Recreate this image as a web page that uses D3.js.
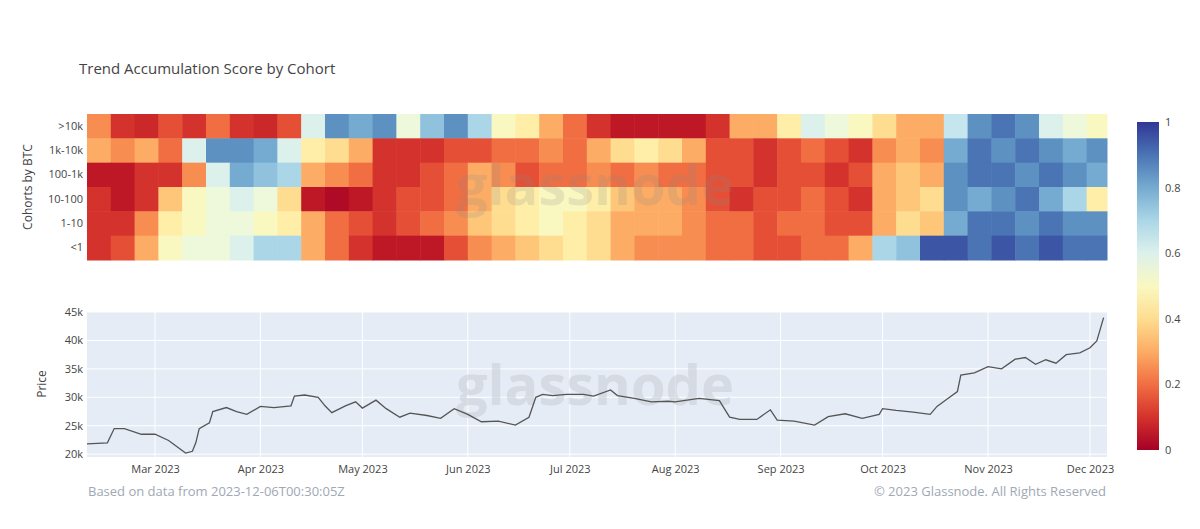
<!DOCTYPE html><html><head><meta charset="utf-8"><script src="https://cdn.jsdelivr.net/npm/d3@7"></script>
<style>body{margin:0;background:#fff;font-family:"Open Sans",sans-serif}</style></head><body><svg id="c" width="1200" height="529"></svg><script>
const cohorts=[">10k","1k-10k","100-1k","10-100","1-10","<1"];
const weekStart="2023-02-09";
const s_gt10k=[0.25,0.1,0.08,0.15,0.1,0.2,0.1,0.08,0.15,0.6,0.85,0.8,0.85,0.55,0.75,0.85,0.7,0.5,0.45,0.3,0.2,0.1,0.05,0.05,0.05,0.05,0.1,0.3,0.3,0.45,0.6,0.55,0.5,0.4,0.3,0.3,0.65,0.85,0.9,0.85,0.6,0.55,0.5];
const s_1k10k=[0.3,0.25,0.3,0.2,0.6,0.85,0.85,0.8,0.6,0.45,0.4,0.3,0.1,0.1,0.1,0.15,0.15,0.2,0.2,0.25,0.2,0.3,0.4,0.45,0.4,0.3,0.15,0.15,0.1,0.15,0.2,0.15,0.1,0.25,0.3,0.25,0.8,0.9,0.85,0.9,0.85,0.8,0.85];
const s_100_1k=[0.05,0.05,0.1,0.1,0.25,0.6,0.8,0.75,0.7,0.3,0.25,0.2,0.1,0.1,0.15,0.2,0.3,0.25,0.15,0.2,0.2,0.25,0.2,0.25,0.2,0.2,0.15,0.15,0.1,0.15,0.15,0.1,0.15,0.3,0.35,0.3,0.85,0.9,0.9,0.85,0.9,0.85,0.8];
const s_10_100=[0.1,0.05,0.1,0.35,0.5,0.55,0.6,0.55,0.4,0.05,0.02,0.05,0.1,0.15,0.15,0.2,0.3,0.4,0.45,0.5,0.5,0.45,0.35,0.3,0.3,0.25,0.15,0.1,0.15,0.15,0.2,0.15,0.1,0.3,0.35,0.4,0.85,0.8,0.85,0.9,0.8,0.7,0.45];
const s_1_10=[0.1,0.1,0.25,0.45,0.5,0.55,0.55,0.5,0.45,0.3,0.2,0.15,0.1,0.15,0.2,0.25,0.35,0.4,0.45,0.5,0.45,0.4,0.3,0.3,0.3,0.25,0.2,0.2,0.15,0.2,0.2,0.15,0.15,0.3,0.4,0.35,0.8,0.9,0.9,0.85,0.9,0.85,0.85];
const s_lt1=[0.1,0.15,0.3,0.5,0.55,0.55,0.6,0.7,0.7,0.3,0.2,0.1,0.05,0.05,0.05,0.15,0.25,0.3,0.35,0.4,0.45,0.4,0.3,0.25,0.25,0.25,0.2,0.2,0.15,0.15,0.2,0.2,0.3,0.7,0.75,0.95,0.95,0.9,0.95,0.9,0.95,0.9,0.9];
const priceDates=["2023-02-09","2023-02-15","2023-02-17","2023-02-20","2023-02-25","2023-03-01","2023-03-05","2023-03-10","2023-03-12","2023-03-13","2023-03-14","2023-03-17","2023-03-18","2023-03-22","2023-03-25","2023-03-28","2023-04-01","2023-04-05","2023-04-10","2023-04-11","2023-04-14","2023-04-18","2023-04-20","2023-04-22","2023-04-26","2023-04-29","2023-05-01","2023-05-05","2023-05-08","2023-05-12","2023-05-15","2023-05-20","2023-05-24","2023-05-28","2023-06-01","2023-06-05","2023-06-10","2023-06-15","2023-06-19","2023-06-21","2023-06-23","2023-06-26","2023-06-30","2023-07-05","2023-07-08","2023-07-13","2023-07-15","2023-07-20","2023-07-25","2023-07-30","2023-08-01","2023-08-08","2023-08-14","2023-08-17","2023-08-20","2023-08-25","2023-08-29","2023-08-31","2023-09-05","2023-09-11","2023-09-15","2023-09-20","2023-09-25","2023-09-30","2023-10-01","2023-10-05","2023-10-10","2023-10-15","2023-10-17","2023-10-20","2023-10-23","2023-10-24","2023-10-28","2023-11-01","2023-11-05","2023-11-09","2023-11-12","2023-11-15","2023-11-18","2023-11-21","2023-11-24","2023-11-28","2023-12-01","2023-12-03","2023-12-05"];
const priceValues=[21.8,22,24.5,24.5,23.5,23.5,22.4,20.2,20.5,22,24.5,25.5,27.5,28.2,27.5,27,28.4,28.2,28.5,30.2,30.4,30,28.5,27.3,28.5,29.2,28.1,29.5,28,26.5,27.2,26.8,26.3,28,27,25.7,25.8,25.1,26.5,30,30.5,30.3,30.5,30.5,30.2,31.3,30.3,29.8,29.2,29.3,29.2,29.8,29.4,26.5,26.1,26.1,27.8,26,25.8,25.1,26.6,27.1,26.3,27,28,27.7,27.4,27,28.4,29.7,31,33.9,34.3,35.4,35,36.7,37,35.8,36.6,36,37.5,37.8,38.7,39.9,44];
const monthTicks=["2023-03-01","2023-04-01","2023-05-01","2023-06-01","2023-07-01","2023-08-01","2023-09-01","2023-10-01","2023-11-01","2023-12-01"];
const priceTicks=[20,25,30,35,40,45];
const cbTicks=[0,0.2,0.4,0.6,0.8,1];

const P=d3.timeParse("%Y-%m-%d"), svg=d3.select("#c");
const series=[s_gt10k,s_1k10k,s_100_1k,s_10_100,s_1_10,s_lt1];
const x=d3.scaleTime().domain([P("2023-02-09"),P("2023-12-06")]).range([87,1107]);
const yh=d3.scaleBand().domain(cohorts).range([114,260]);
const col=v=>d3.interpolateRdYlBu(v);
svg.append("text").attr("x",79).attr("y",74).attr("font-size",15).attr("fill","#444").text("Trend Accumulation Score by Cohort");
const ws=P(weekStart);
series.forEach((s,i)=>{s.forEach((v,k)=>{const a=d3.timeDay.offset(ws,7*k),b=d3.min([d3.timeDay.offset(ws,7*k+7),x.domain()[1]]);
 svg.append("rect").attr("x",x(a)).attr("y",yh(cohorts[i])).attr("width",x(b)-x(a)+0.5).attr("height",yh.bandwidth()+0.5).attr("fill",col(v));});});
svg.append("g").attr("transform","translate(87,0)").call(d3.axisLeft(yh).tickSize(0).tickPadding(4)).call(g=>g.select(".domain").remove()).selectAll("text").attr("font-size",11).attr("fill","#444").attr("font-family","Open Sans");
svg.append("text").attr("transform","translate(32,187) rotate(-90)").attr("text-anchor","middle").attr("font-size",12).attr("fill","#444").text("Cohorts by BTC");
// price
const yp=d3.scaleLinear().domain([19.5,45]).range([457,312]);
svg.append("rect").attr("x",87).attr("y",312).attr("width",1020).attr("height",145).attr("fill","#e5ecf6");
monthTicks.forEach(t=>svg.append("line").attr("x1",x(P(t))).attr("x2",x(P(t))).attr("y1",312).attr("y2",457).attr("stroke","#fff"));
priceTicks.forEach(t=>svg.append("line").attr("x1",87).attr("x2",1107).attr("y1",yp(t)).attr("y2",yp(t)).attr("stroke","#fff"));
svg.append("text").attr("x",595).attr("y",405).attr("text-anchor","middle").attr("font-size",56).attr("font-weight","bold").attr("fill","#c8ccd4").attr("opacity",0.55).text("glassnode");
svg.append("text").attr("x",595).attr("y",205).attr("text-anchor","middle").attr("font-size",56).attr("font-weight","bold").attr("fill","#888").attr("opacity",0.18).text("glassnode");
svg.append("path").datum(priceDates.map((d,i)=>[P(d),priceValues[i]])).attr("fill","none").attr("stroke","#555").attr("stroke-width",1.3)
 .attr("d",d3.line().x(d=>x(d[0])).y(d=>yp(d[1])));
svg.append("g").attr("transform","translate(87,0)").call(d3.axisLeft(yp).tickValues(priceTicks).tickFormat(d=>d+"k").tickSize(0).tickPadding(4)).call(g=>g.select(".domain").remove()).selectAll("text").attr("font-size",11).attr("fill","#444").attr("font-family","Open Sans");
svg.append("g").attr("transform","translate(0,457)").call(d3.axisBottom(x).tickValues(monthTicks.map(P)).tickFormat(d3.timeFormat("%b %Y")).tickSize(0).tickPadding(8)).call(g=>g.select(".domain").remove()).selectAll("text").attr("font-size",11).attr("fill","#444").attr("font-family","Open Sans");
svg.append("text").attr("transform","translate(46,384) rotate(-90)").attr("text-anchor","middle").attr("font-size",12).attr("fill","#444").text("Price");
// colorbar
const cy=d3.scaleLinear().domain([0,1]).range([450,122]);
const gr=svg.append("defs").append("linearGradient").attr("id","g").attr("x1",0).attr("x2",0).attr("y1",1).attr("y2",0);
d3.range(0,1.01,0.1).forEach(t=>gr.append("stop").attr("offset",t).attr("stop-color",col(t)));
svg.append("rect").attr("x",1137).attr("y",122).attr("width",22).attr("height",328).attr("fill","url(#g)");
svg.append("g").attr("transform","translate(1159,0)").call(d3.axisRight(cy).tickValues(cbTicks).tickFormat(d3.format("")).tickSize(0).tickPadding(6)).call(g=>g.select(".domain").remove()).selectAll("text").attr("font-size",11).attr("fill","#444").attr("font-family","Open Sans");
svg.append("text").attr("x",88).attr("y",496).attr("font-size",13).attr("fill","#a0a8b4").text("Based on data from 2023-12-06T00:30:05Z");
svg.append("text").attr("x",1106).attr("y",496).attr("text-anchor","end").attr("font-size",13).attr("fill","#a0a8b4").text("© 2023 Glassnode. All Rights Reserved");
</script></body></html>
